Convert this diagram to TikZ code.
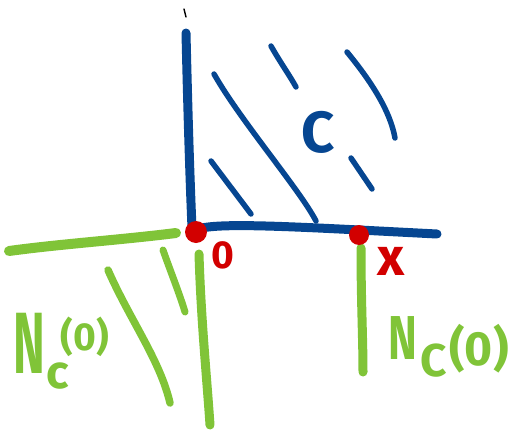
\documentclass[tikz,border=0pt]{standalone}
\usepackage{graphicx}
\usepackage{fontspec}
\newfontfamily\hand{Fira Sans}
\definecolor{cblue}{RGB}{6,70,145}
\definecolor{cgreen}{RGB}{128,196,56}
\definecolor{cred}{RGB}{210,0,0}
\begin{document}
\begin{tikzpicture}[x=1pt,y=-1pt,
  axisline/.style={cblue, line width=9pt, line cap=round},
  hatchline/.style={cblue, line width=5.5pt, line cap=round},
  coneline/.style={cgreen, line cap=round},
  dotmark/.style={fill=cred, draw=none},
  lbl/.style={inner sep=0pt, font=\hand\bfseries}]
\useasboundingbox (0,0) rectangle (512,434);
% tick at top
\draw[black, line width=1.4pt, line cap=round] (184,9) -- (186,17);
% axes of C
\draw[axisline] (186,33) .. controls (188,120) and (190,180) .. (192,228);
\draw[axisline] (198,229) .. controls (220,222) and (300,227) .. (437,234);
% hatching
\draw[hatchline] (214,74) .. controls (240,120) and (300,190) .. (316,221);
\draw[hatchline] (271,46) .. controls (280,62) and (290,76) .. (296,87);
\draw[hatchline] (347,52) .. controls (370,80) and (390,110) .. (395,138);
\draw[hatchline] (211,161) -- (251,214);
\draw[hatchline] (351,158) -- (372,189);
% normal cones
\draw[coneline, line width=10pt] (9,251) .. controls (60,244) and (120,240) .. (176,233);
\draw[coneline, line width=9pt] (199,254) .. controls (201,320) and (207,380) .. (210,425);
\draw[coneline, line width=7pt] (163,250) .. controls (170,270) and (180,295) .. (185,312);
\draw[coneline, line width=7.5pt] (108,270) .. controls (130,320) and (160,360) .. (170,403);
\draw[coneline, line width=9pt] (361,248) .. controls (361,300) and (363,340) .. (363,372);
% points
\fill[dotmark] (196,232) circle (11);
\fill[dotmark] (359,235) circle (10);
% labels
\node[lbl, text=cblue] (setC) at (318,132) {\fontsize{58}{58}\selectfont C};
\node[lbl, text=cred] (zero) at (223,255) {\fontsize{39}{39}\selectfont 0};
\node[lbl, text=cred] (xpt) at (391,261) {\fontsize{53}{53}\selectfont x};
\node[lbl, text=cgreen] (lN) at (29,343) {\fontsize{87}{87}\selectfont\scalebox{0.55}[1]{N}};
\node[lbl, text=cgreen] (lc) at (58,376) {\fontsize{47}{47}\selectfont c};
\node[lbl, text=cgreen] (lsup) at (85,337) {\fontsize{39}{39}\selectfont (0)};
\node[lbl, text=cgreen] (rN) at (403,338) {\fontsize{62}{62}\selectfont\scalebox{0.7}[1]{N}};
\node[lbl, text=cgreen] (rC) at (434,361) {\fontsize{46}{46}\selectfont C};
\node[lbl, text=cgreen] (rsup) at (479,349) {\fontsize{48}{48}\selectfont (0)};
\end{tikzpicture}
\end{document}
